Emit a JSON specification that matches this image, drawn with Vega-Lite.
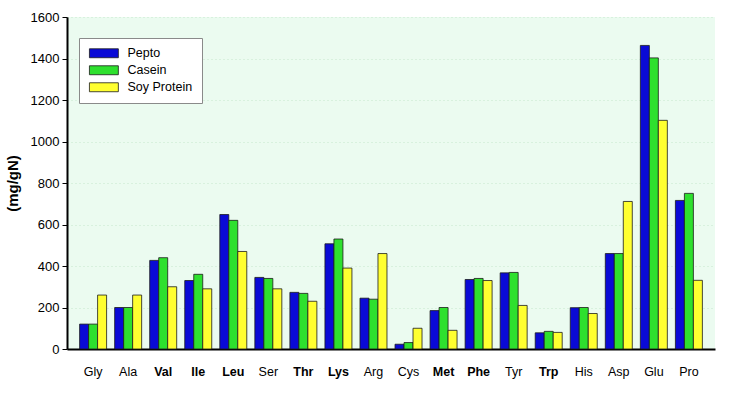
{
  "$schema": "https://vega.github.io/schema/vega-lite/v6.json",
  "width": 648,
  "height": 332,
  "autosize": "none",
  "padding": {"left": 67, "top": 17, "right": 35, "bottom": 44},
  "background": "white",
  "config": {
    "font": "Liberation Sans",
    "view": {"fill": "#ebfbf0", "stroke": null}
  },
  "data": {
    "values": [
      {"aa": "Gly", "series": "Pepto", "v": 120}, {"aa": "Gly", "series": "Casein", "v": 120}, {"aa": "Gly", "series": "Soy Protein", "v": 260},
      {"aa": "Ala", "series": "Pepto", "v": 200}, {"aa": "Ala", "series": "Casein", "v": 200}, {"aa": "Ala", "series": "Soy Protein", "v": 260},
      {"aa": "Val", "series": "Pepto", "v": 427}, {"aa": "Val", "series": "Casein", "v": 440}, {"aa": "Val", "series": "Soy Protein", "v": 300},
      {"aa": "Ile", "series": "Pepto", "v": 330}, {"aa": "Ile", "series": "Casein", "v": 360}, {"aa": "Ile", "series": "Soy Protein", "v": 290},
      {"aa": "Leu", "series": "Pepto", "v": 648}, {"aa": "Leu", "series": "Casein", "v": 620}, {"aa": "Leu", "series": "Soy Protein", "v": 470},
      {"aa": "Ser", "series": "Pepto", "v": 345}, {"aa": "Ser", "series": "Casein", "v": 340}, {"aa": "Ser", "series": "Soy Protein", "v": 290},
      {"aa": "Thr", "series": "Pepto", "v": 273}, {"aa": "Thr", "series": "Casein", "v": 268}, {"aa": "Thr", "series": "Soy Protein", "v": 230},
      {"aa": "Lys", "series": "Pepto", "v": 507}, {"aa": "Lys", "series": "Casein", "v": 530}, {"aa": "Lys", "series": "Soy Protein", "v": 390},
      {"aa": "Arg", "series": "Pepto", "v": 245}, {"aa": "Arg", "series": "Casein", "v": 240}, {"aa": "Arg", "series": "Soy Protein", "v": 460},
      {"aa": "Cys", "series": "Pepto", "v": 23}, {"aa": "Cys", "series": "Casein", "v": 31}, {"aa": "Cys", "series": "Soy Protein", "v": 100},
      {"aa": "Met", "series": "Pepto", "v": 185}, {"aa": "Met", "series": "Casein", "v": 200}, {"aa": "Met", "series": "Soy Protein", "v": 90},
      {"aa": "Phe", "series": "Pepto", "v": 335}, {"aa": "Phe", "series": "Casein", "v": 340}, {"aa": "Phe", "series": "Soy Protein", "v": 330},
      {"aa": "Tyr", "series": "Pepto", "v": 367}, {"aa": "Tyr", "series": "Casein", "v": 369}, {"aa": "Tyr", "series": "Soy Protein", "v": 210},
      {"aa": "Trp", "series": "Pepto", "v": 78}, {"aa": "Trp", "series": "Casein", "v": 85}, {"aa": "Trp", "series": "Soy Protein", "v": 80},
      {"aa": "His", "series": "Pepto", "v": 199}, {"aa": "His", "series": "Casein", "v": 200}, {"aa": "His", "series": "Soy Protein", "v": 171},
      {"aa": "Asp", "series": "Pepto", "v": 460}, {"aa": "Asp", "series": "Casein", "v": 460}, {"aa": "Asp", "series": "Soy Protein", "v": 711},
      {"aa": "Glu", "series": "Pepto", "v": 1463}, {"aa": "Glu", "series": "Casein", "v": 1403}, {"aa": "Glu", "series": "Soy Protein", "v": 1102},
      {"aa": "Pro", "series": "Pepto", "v": 716}, {"aa": "Pro", "series": "Casein", "v": 750}, {"aa": "Pro", "series": "Soy Protein", "v": 331}
    ]
  },
  "mark": {"type": "bar", "stroke": "#1a1a1a", "strokeWidth": 0.8},
  "encoding": {
    "x": {
      "field": "aa",
      "type": "nominal",
      "sort": null,
      "scale": {"paddingInner": 0.23, "paddingOuter": 0.36},
      "axis": {
        "title": null,
        "labelAngle": 0,
        "ticks": false,
        "labelPadding": 16,
        "labelFontSize": 12.5,
        "labelColor": "#000",
        "labelFontWeight": {"condition": {"test": "indexof(['Val','Ile','Leu','Thr','Lys','Met','Phe','Trp'], datum.value) >= 0", "value": "bold"}, "value": "normal"},
        "domainColor": "#000",
        "domainWidth": 2,
        "grid": false
      }
    },
    "xOffset": {"field": "series", "type": "nominal", "sort": ["Pepto", "Casein", "Soy Protein"], "scale": {"paddingInner": 0}},
    "y": {
      "field": "v",
      "type": "quantitative",
      "scale": {"domain": [0, 1600], "nice": false},
      "axis": {
        "title": "(mg/gN)",
        "titleFontSize": 15,
        "titleFontWeight": "bold",
        "titleColor": "#000",
        "titlePadding": 10,
        "format": "d",
        "values": [0, 200, 400, 600, 800, 1000, 1200, 1400, 1600],
        "labelFontSize": 13,
        "labelColor": "#000",
        "labelPadding": 3,
        "tickSize": 5,
        "tickColor": "#000",
        "domainColor": "#000",
        "domainWidth": 2,
        "gridColor": "#c4e6cc",
        "gridDash": [1, 3],
        "gridWidth": 1
      }
    },
    "color": {
      "field": "series",
      "type": "nominal",
      "sort": ["Pepto", "Casein", "Soy Protein"],
      "scale": {"domain": ["Pepto", "Casein", "Soy Protein"], "range": ["#0a0ad6", "#2ee02e", "#ffff30"]},
      "legend": {
        "title": null,
        "orient": "none",
        "legendX": 12,
        "legendY": 21,
        "fillColor": "white",
        "strokeColor": "#8a8a8a",
        "padding": 9,
        "symbolType": "M-1,-0.93H5V0.93H-1Z",
        "symbolSize": 93,
        "symbolStrokeColor": "#1a1a1a",
        "symbolStrokeWidth": 0.8,
        "symbolOpacity": 1,
        "labelFontSize": 12.5,
        "labelColor": "#000",
        "labelOffset": 27,
        "labelExpr": "datum.label + '    '",
        "rowPadding": 4
      }
    }
  }
}
